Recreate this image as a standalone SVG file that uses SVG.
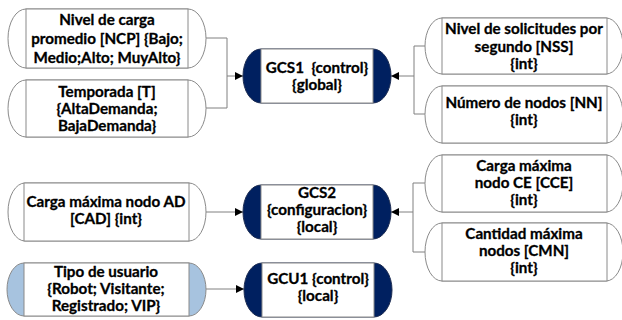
<svg xmlns="http://www.w3.org/2000/svg" width="622" height="320" viewBox="0 0 622 320">
<style>
.cap{fill:#ffffff;stroke:#8a8a8a;stroke-width:1}
.capd{fill:#002060;stroke:#1a2a50;stroke-width:1}
.capb{fill:#a7c3df;stroke:#8a8a8a;stroke-width:1}
.body{fill:#ffffff;stroke:#8a8a8a;stroke-width:1}
.t{font-family:Lato,"Liberation Sans",sans-serif;font-weight:bold;font-size:15.2px;fill:#000;stroke:#000;stroke-width:0.3;text-anchor:middle}
.c{fill:none;stroke:#808080;stroke-width:1}
</style>
<defs>
<marker id="ah" viewBox="0 0 10 10" refX="10" refY="5" markerWidth="8" markerHeight="8" markerUnits="userSpaceOnUse" orient="auto">
<path d="M0,0 L10,5 L0,10 z" fill="#000"/>
</marker>
</defs>
<g id="connectors">
<path class="c" d="M206,38 H227 V108 H206"/>
<path class="c" d="M227,76 H243" marker-end="url(#ah)"/>
<path class="c" d="M425,46 H414 V114 H425"/>
<path class="c" d="M414,76 H391" marker-end="url(#ah)"/>
<path class="c" d="M425,183 H413 V252 H425"/>
<path class="c" d="M413,212 H391" marker-end="url(#ah)"/>
<path class="c" d="M206,212 H243" marker-end="url(#ah)"/>
<path class="c" d="M206,289 H244" marker-end="url(#ah)"/>
</g>
<g id="NCP">
<rect class="cap" x="8" y="9" width="198" height="59" rx="18" ry="29.5"/>
<rect class="body" x="26" y="9" width="162" height="59"/>
<text class="t" x="107" y="25">Nivel de carga</text>
<text class="t" x="107" y="44">promedio [NCP] {Bajo;</text>
<text class="t" x="107" y="62.5">Medio;Alto; MuyAlto}</text>
</g>
<g id="T">
<rect class="cap" x="8" y="80" width="198" height="57" rx="18" ry="28.5"/>
<rect class="body" x="26" y="80" width="162" height="57"/>
<text class="t" x="107" y="97">Temporada [T]</text>
<text class="t" x="107" y="114">{AltaDemanda;</text>
<text class="t" x="107" y="131">BajaDemanda}</text>
</g>
<g id="GCS1">
<rect class="capd" x="243" y="49" width="148" height="54" rx="18" ry="27"/>
<rect class="body" x="261" y="49" width="112" height="54"/>
<text class="t" x="317" y="73" xml:space="preserve">GCS1  {control}</text>
<text class="t" x="317" y="90">{global}</text>
</g>
<g id="NSS">
<rect class="cap" x="425" y="18" width="198" height="56" rx="17" ry="28"/>
<rect class="body" x="442" y="18" width="165" height="56"/>
<text class="t" x="524" y="33.5">Nivel de solicitudes por</text>
<text class="t" x="524" y="51.5">segundo [NSS]</text>
<text class="t" x="524" y="68.5">{int}</text>
</g>
<g id="NN">
<rect class="cap" x="425" y="86" width="198" height="57" rx="17" ry="28.5"/>
<rect class="body" x="442" y="86" width="165" height="57"/>
<text class="t" x="524" y="108">Número de nodos [NN]</text>
<text class="t" x="524" y="125">{int}</text>
</g>
<g id="CAD">
<rect class="cap" x="8" y="183" width="198" height="58" rx="17" ry="29"/>
<rect class="body" x="24" y="183" width="165" height="58"/>
<text class="t" x="106" y="207">Carga máxima nodo AD</text>
<text class="t" x="106" y="224">[CAD] {int}</text>
</g>
<g id="GCS2">
<rect class="capd" x="243" y="185" width="148" height="54" rx="18" ry="27"/>
<rect class="body" x="261" y="185" width="112" height="54"/>
<text class="t" x="317" y="198">GCS2</text>
<text class="t" x="317" y="215">{configuracion}</text>
<text class="t" x="317" y="232">{local}</text>
</g>
<g id="CCE">
<rect class="cap" x="425" y="155" width="198" height="57" rx="17" ry="28.5"/>
<rect class="body" x="442" y="155" width="165" height="57"/>
<text class="t" x="524" y="171">Carga máxima</text>
<text class="t" x="524" y="188">nodo CE [CCE]</text>
<text class="t" x="524" y="205">{int}</text>
</g>
<g id="CMN">
<rect class="cap" x="425" y="223" width="198" height="58" rx="17" ry="29"/>
<rect class="body" x="442" y="223" width="165" height="58"/>
<text class="t" x="524" y="239">Cantidad máxima</text>
<text class="t" x="524" y="256">nodos [CMN]</text>
<text class="t" x="524" y="273">{int}</text>
</g>
<g id="Tipo">
<rect class="capb" x="7" y="263" width="199" height="53" rx="17" ry="26.5"/>
<rect class="body" x="24" y="263" width="165" height="53"/>
<text class="t" x="106" y="277">Tipo de usuario</text>
<text class="t" x="106" y="294">{Robot; Visitante;</text>
<text class="t" x="106" y="311">Registrado; VIP}</text>
</g>
<g id="GCU1">
<rect class="capd" x="244" y="263" width="148" height="54" rx="18" ry="27"/>
<rect class="body" x="262" y="263" width="112" height="54"/>
<text class="t" x="318" y="284">GCU1 {control}</text>
<text class="t" x="318" y="301">{local}</text>
</g>
</svg>
